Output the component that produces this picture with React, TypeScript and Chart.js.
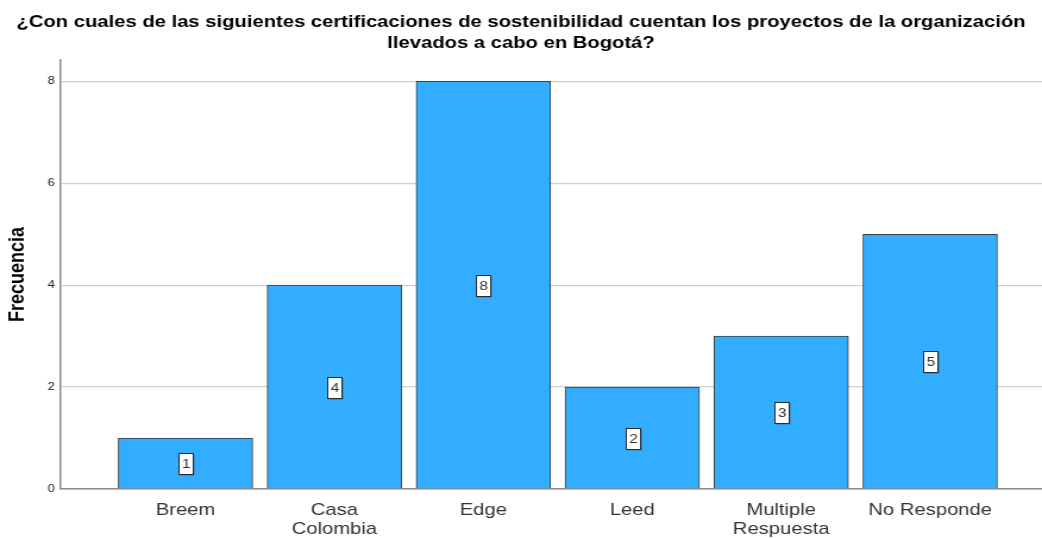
import React, { useEffect, useRef } from "react";
import { Chart, registerables } from "chart.js";

Chart.register(...registerables);

const titleLines = [
  "¿Con cuales de las siguientes certificaciones de sostenibilidad cuentan los proyectos de la organización",
  "llevados a cabo en Bogotá?",
];
const categories: (string | string[])[] = [
  "Breem",
  ["Casa", "Colombia"],
  "Edge",
  "Leed",
  ["Multiple", "Respuesta"],
  "No Responde",
];
const frecuencia = [1, 4, 8, 2, 3, 5];
const yTicks = [0, 2, 4, 6, 8];

const FONT = "'Liberation Sans', Arial, sans-serif";
// The reference image is horizontally stretched; draw narrower and stretch.
const STRETCH = 1.19;
const OUT_W = 1042;
const OUT_H = 538;
const W = Math.round(OUT_W / STRETCH);

export default function App() {
  const ref = useRef<HTMLCanvasElement | null>(null);

  useEffect(() => {
    if (!ref.current) return;

    const titlePlugin = {
      id: "customTitle",
      afterDraw(chart: any) {
        const ctx = chart.ctx;
        ctx.save();
        ctx.fillStyle = "#000";
        ctx.font = `bold 17px ${FONT}`;
        ctx.textAlign = "center";
        ctx.textBaseline = "middle";
        ctx.fillText(titleLines[0], chart.width / 2, 22);
        ctx.fillText(titleLines[1], chart.width / 2, 43);
        ctx.restore();
      },
    };

    const labelPlugin = {
      id: "valueBoxes",
      afterDatasetsDraw(chart: any) {
        const ctx = chart.ctx;
        const meta = chart.getDatasetMeta(0);
        const ys = chart.scales.y;
        ctx.save();
        ctx.font = `13px ${FONT}`;
        ctx.textAlign = "center";
        ctx.textBaseline = "middle";
        meta.data.forEach((bar: any, i: number) => {
          const v = frecuencia[i];
          const cx = bar.x;
          const cy = ys.getPixelForValue(v / 2);
          const txt = String(v);
          const w = Math.ceil(ctx.measureText(txt).width) + 4;
          const h = 21;
          const x0 = Math.round(cx - w / 2) + 0.5;
          const y0 = Math.round(cy - h / 2) + 0.5;
          ctx.fillStyle = "rgba(0,0,0,0.3)";
          ctx.fillRect(x0 + 1, y0 + 1, w, h);
          ctx.fillStyle = "#ffffff";
          ctx.fillRect(x0, y0, w, h);
          ctx.strokeStyle = "#2a2a2a";
          ctx.lineWidth = 1;
          ctx.strokeRect(x0, y0, w, h);
          ctx.fillStyle = "#333333";
          ctx.fillText(txt, x0 + w / 2, cy + 1);
        });
        ctx.restore();
      },
    };

    const chart = new Chart(ref.current, {
      type: "bar",
      data: {
        datasets: [
          {
            data: frecuencia.map((v, i) => ({ x: i, y: v })),
            backgroundColor: "#32adff",
            borderColor: "#3d3d3d",
            borderWidth: 1,
            barThickness: 113,
          },
        ],
      },
      options: {
        responsive: false,
        animation: false,
        events: [],
        layout: { padding: { top: 60, right: 0, bottom: 0, left: 0 } },
        plugins: {
          legend: { display: false },
          tooltip: { enabled: false },
          title: { display: false },
        },
        scales: {
          x: {
            type: "linear",
            offset: false,
            min: -0.838,
            max: 5.751,
            grid: { display: false, drawTicks: false },
            border: { display: true, color: "#8c8c8c", width: 1.5 },
            afterFit: (scale: any) => {
              scale.height = 49;
            },
            afterBuildTicks: (scale: any) => {
              scale.ticks = categories.map((_, i) => ({ value: i }));
            },
            ticks: {
              autoSkip: false,
              maxRotation: 0,
              minRotation: 0,
              padding: 12,
              color: "#333333",
              font: { family: FONT, size: 17, lineHeight: 1.12 },
              callback: (v: any) => {
                const idx = Number(v);
                return Number.isInteger(idx) && categories[idx] !== undefined
                  ? (categories[idx] as any)
                  : "";
              },
            },
          },
          y: {
            min: 0,
            max: 8.42,
            afterFit: (scale: any) => {
              scale.width = 51;
            },
            afterBuildTicks: (scale: any) => {
              scale.ticks = yTicks.map((v) => ({ value: v }));
            },
            grid: { color: "#d0d0d0", lineWidth: 1.3, drawTicks: false },
            border: { display: true, color: "#8c8c8c", width: 1.5 },
            ticks: {
              padding: 5,
              color: "#222222",
              font: { family: FONT, size: 11 },
            },
            title: {
              display: true,
              text: "Frecuencia",
              color: "#000000",
              font: { family: FONT, size: 18, weight: "bold", lineHeight: 1.2 },
              padding: { top: 4, bottom: 0 },
            },
          },
        },
      },
      plugins: [titlePlugin, labelPlugin],
    } as any);

    return () => chart.destroy();
  }, []);

  return (
    <div
      style={{
        position: "fixed",
        left: 0,
        top: 0,
        width: OUT_W,
        height: OUT_H,
        background: "#fff",
        overflow: "hidden",
      }}
    >
      <div
        style={{
          width: W,
          height: OUT_H,
          transform: `scaleX(${OUT_W / W})`,
          transformOrigin: "0 0",
        }}
      >
        <canvas
          ref={ref}
          width={W}
          height={OUT_H}
          style={{ display: "block", width: W, height: OUT_H }}
        />
      </div>
    </div>
  );
}
